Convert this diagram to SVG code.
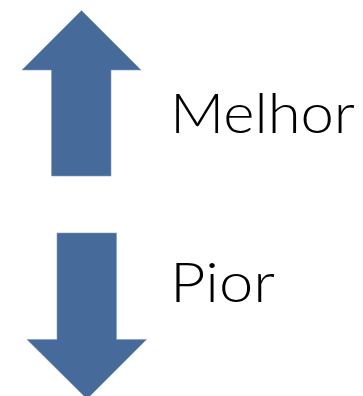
<svg xmlns="http://www.w3.org/2000/svg" width="363" height="396" viewBox="0 0 363 396">
<style>
.arrow{fill:#466a99;stroke:#7f9cc4;stroke-width:0.6}
.lbl{font-family:Lato,"Open Sans","Liberation Sans",sans-serif;font-weight:300;font-size:56px;fill:#000}
</style>
<rect width="363" height="396" fill="#fff"/>
<g id="up-arrow"><polygon class="arrow" points="81.5,10.5 141,70 111,70 111,176 51.5,176 51.5,70 22,70"/></g>
<g id="down-arrow"><polygon class="arrow" points="57,233 116.5,233 116.5,339.5 146.5,339.5 87,399 27,339.5 57,339.5"/></g>
<g id="label-melhor"><text class="lbl" x="170" y="133" textLength="185" lengthAdjust="spacingAndGlyphs">Melhor</text></g>
<g id="label-pior"><text class="lbl" x="170" y="302" textLength="105" lengthAdjust="spacingAndGlyphs">Pior</text></g>
<g id="connectors"/>
</svg>
